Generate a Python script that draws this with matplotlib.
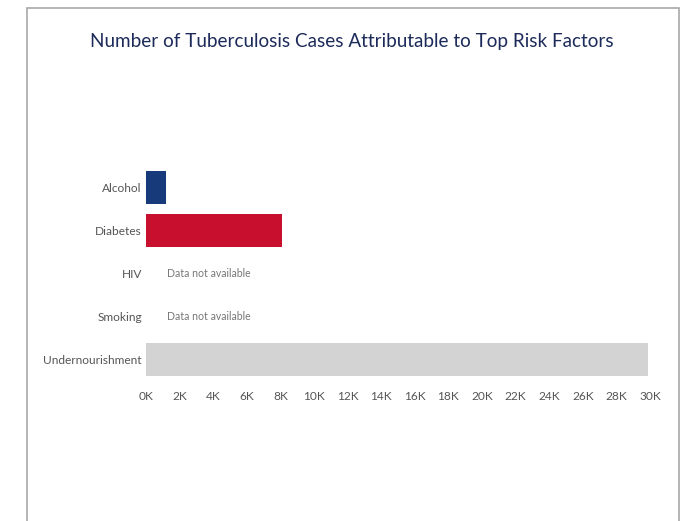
import matplotlib.pyplot as plt
from matplotlib.patches import Rectangle

plt.rcParams['font.family'] = ['Lato', 'DejaVu Sans']

factors = ["Alcohol", "Diabetes", "HIV", "Smoking", "Undernourishment"]
cases = [1200, 8100, None, None, 29900]
colors = ["#163a7a", "#c8102e", "#cccccc", "#cccccc", "#d3d3d3"]
ticks = list(range(0, 30001, 2000))
tick_labels = [f"{t // 1000}K" for t in ticks]

fig = plt.figure(figsize=(6.93, 5.21), dpi=100)

# thin frame around the whole card
fig.patches.append(Rectangle((26.5 / 693, -0.01), (679 - 26.5) / 693, 1 - 7.5 / 521 + 0.01,
                             transform=fig.transFigure, fill=False,
                             edgecolor="#a8a8a8", linewidth=1.2))

fig.text(352 / 693, 1 - 41 / 521, "Number of Tuberculosis Cases Attributable to Top Risk Factors",
         ha="center", va="center", fontsize=13.6, color="#1c2b5a")

ax = fig.add_axes([146 / 693, 1 - 381 / 521, (650 - 146) / 693, (381 - 166) / 521])

for i, (name, val) in enumerate(zip(factors, cases)):
    if val is None:
        ax.text(1250, i, "Data not available", va="center", ha="left",
                fontsize=7.6, color="#777777")
    else:
        ax.barh(i, val, height=0.75, color=colors[i])

ax.set_xlim(0, 30000)
ax.set_ylim(4.5, -0.5)
ax.set_yticks(range(len(factors)))
ax.set_yticklabels(factors, fontsize=8.6, color="#555555")
ax.set_xticks(ticks)
ax.set_xticklabels(tick_labels, fontsize=8.6, color="#555555")
ax.tick_params(length=0, pad=7)
ax.tick_params(axis="y", pad=3)
for s in ax.spines.values():
    s.set_visible(False)

fig.savefig("out.png", dpi=100)
